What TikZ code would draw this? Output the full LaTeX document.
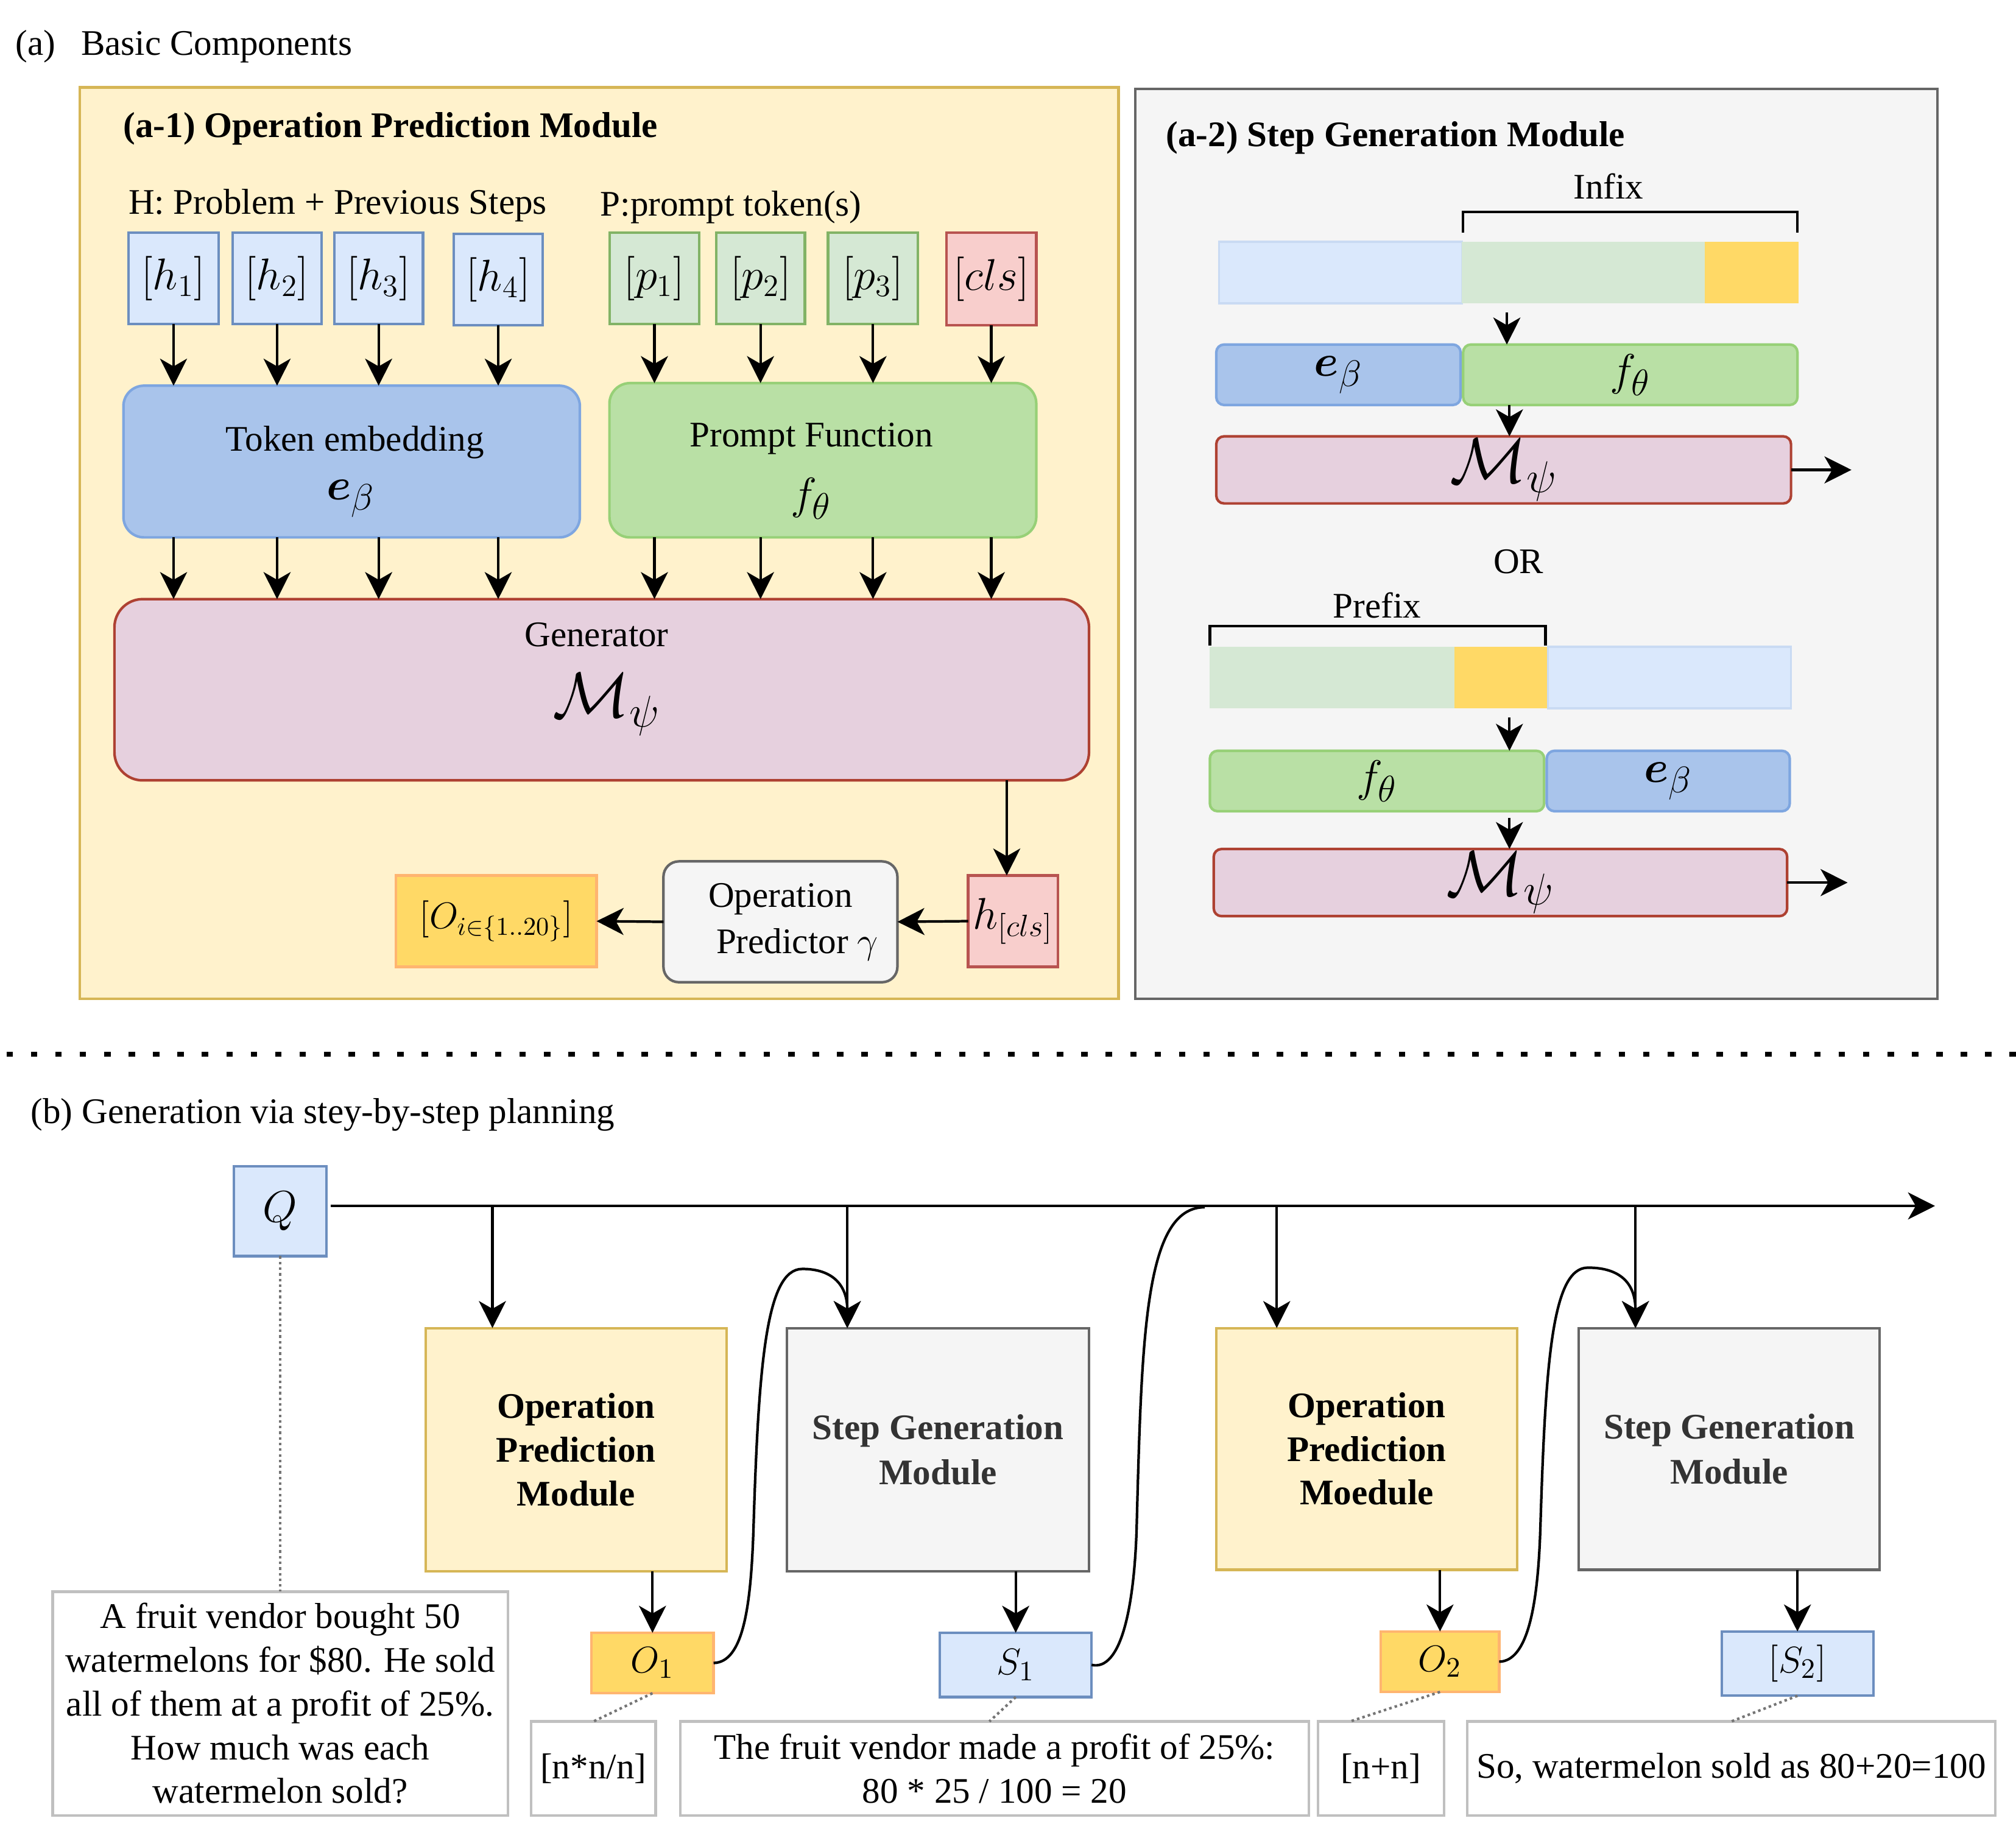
\documentclass[tikz,border=0pt]{standalone}
\usepackage{fontspec}
\usepackage{bm}
\setmainfont{Liberation Serif}
\usetikzlibrary{arrows.meta,calc}
\definecolor{ylwF}{HTML}{FFF2CC}\definecolor{ylwD}{HTML}{D6B656}
\definecolor{bluF}{HTML}{DAE8FC}\definecolor{bluD}{HTML}{6C8EBF}
\definecolor{grnF}{HTML}{D5E8D4}\definecolor{grnD}{HTML}{82B366}
\definecolor{redF}{HTML}{F8CECC}\definecolor{redD}{HTML}{B85450}
\definecolor{teF}{HTML}{A9C4EB}\definecolor{teD}{HTML}{7EA6E0}
\definecolor{pfF}{HTML}{B9E0A5}\definecolor{pfD}{HTML}{97D077}
\definecolor{genF}{HTML}{E6D0DE}\definecolor{genD}{HTML}{AE4132}
\definecolor{gryF}{HTML}{F5F5F5}\definecolor{gryD}{HTML}{666666}
\definecolor{gryT}{HTML}{333333}
\definecolor{orgF}{HTML}{FFD966}\definecolor{orgD}{HTML}{FFB570}
\definecolor{annD}{HTML}{C0C0C0}
\definecolor{dotC}{HTML}{757575}
\newcommand\mybox[7]{%
 \pgfmathsetmacro\bxcx{(#3+#5)/2}%
 \pgfmathsetmacro\bxcy{(#4+#6)/2}%
 \pgfmathsetmacro\bxw{(#5-#3)*0.5}%
 \pgfmathsetmacro\bxh{(#6-#4)*0.5}%
 \node[#1, minimum width=\bxw pt, minimum height=\bxh pt] (#2) at (\bxcx,\bxcy) {#7};}
\begin{document}
\begin{tikzpicture}[x=0.5pt,y=-0.5pt,
 every node/.style={outer sep=0pt},
 base/.style={draw, line width=1pt, inner sep=1pt, align=center, font=\fontsize{14}{17}\selectfont},
 tokB/.style={base, fill=bluF, draw=bluD, font=\fontsize{17}{20}\selectfont},
 tokG/.style={base, fill=grnF, draw=grnD, font=\fontsize{17}{20}\selectfont},
 tokR/.style={base, fill=redF, draw=redD, font=\fontsize{17}{20}\selectfont},
 panelY/.style={base, fill=ylwF, draw=ylwD},
 panelG/.style={base, fill=gryF, draw=gryD},
 teS/.style={base, fill=teF, draw=teD, rounded corners=8pt},
 pfS/.style={base, fill=pfF, draw=pfD, rounded corners=8pt},
 genS/.style={base, fill=genF, draw=genD, rounded corners=11pt},
 opS/.style={base, fill=gryF, draw=gryD, rounded corners=6pt, font=\fontsize{14}{18}\selectfont},
 ylwS/.style={base, fill=orgF, draw=orgD, font=\fontsize{14.5}{17}\selectfont},
 smte/.style={base, fill=teF, draw=teD, rounded corners=3pt, font=\fontsize{19}{20}\selectfont},
 smpf/.style={base, fill=pfF, draw=pfD, rounded corners=3pt, font=\fontsize{19}{20}\selectfont},
 smgen/.style={base, fill=genF, draw=genD, rounded corners=3pt, font=\fontsize{26}{26}\selectfont},
 barS/.style={inner sep=0pt},
 opm/.style={base, fill=ylwF, draw=ylwD, font=\fontsize{14}{17}\selectfont\bfseries},
 sgm/.style={base, fill=gryF, draw=gryD, text=gryT, font=\fontsize{14}{17.5}\selectfont\bfseries},
 valO/.style={base, fill=orgF, draw=orgD, font=\fontsize{15}{17}\selectfont},
 valS/.style={base, fill=bluF, draw=bluD, font=\fontsize{15}{17}\selectfont},
 ann/.style={base, fill=white, draw=annD},
 txt/.style={inner sep=0pt, font=\fontsize{14}{17}\selectfont},
 mtxt/.style={inner sep=0pt, font=\fontsize{19}{20}\selectfont},
 ttl/.style={inner sep=0pt, anchor=west, font=\fontsize{14}{17}\selectfont\bfseries},
 arr/.style={line width=1pt, -{Stealth[length=10.5pt,width=10.5pt,inset=3pt]}},
 plain/.style={line width=1pt},
 dotl/.style={draw=dotC, line width=1pt, dash pattern=on 1pt off 1.2pt},
 sepl/.style={line width=2pt, dash pattern=on 2.5pt off 7pt},
 brk/.style={line width=1pt}
]
\fill[white] (0,0) rectangle (1568,1416);
\useasboundingbox (0,0) rectangle (1568,1416);

% ---------- (a) ----------
\node[txt, anchor=west] (ta) at (12,36) {(a)\hspace{10pt}Basic Components};

% (a-1)
\mybox{panelY}{pa1}{62}{68}{870}{777}{}
\node[ttl] (t1ttl) at (96,100) {(a-1) Operation Prediction Module};
\node[txt, anchor=west] (thl) at (100,160) {H: Problem + Previous Steps};
\node[txt, anchor=west] (tpl) at (467,161) {P:prompt token(s)};

\mybox{tokB}{h1}{100}{181}{170}{252}{$[h_1]$}
\mybox{tokB}{h2}{181}{181}{250}{252}{$[h_2]$}
\mybox{tokB}{h3}{260}{181}{329}{252}{$[h_3]$}
\mybox{tokB}{h4}{353}{182}{422}{253}{$[h_4]$}
\mybox{tokG}{p1}{474}{181}{544}{252}{$[p_1]$}
\mybox{tokG}{p2}{557}{181}{626}{252}{$[p_2]$}
\mybox{tokG}{p3}{644}{181}{714}{252}{$[p_3]$}
\mybox{tokR}{cls}{736}{181}{806}{253}{$[cls]$}

\mybox{teS}{te}{96}{300}{451}{418}{}
\node[txt] (tet) at (276,344) {Token embedding};
\node[mtxt] (tem) at (273,388) {$\bm{e}_\beta$};
\mybox{pfS}{pf}{474}{298}{806}{418}{}
\node[txt] (pft) at (631,341) {Prompt Function};
\node[mtxt] (pfm) at (631,388) {$f_\theta$};

\mybox{genS}{gen}{89}{466}{847}{607}{}
\node[txt, anchor=base] (gent) at (464,503) {Generator};
\node[inner sep=0pt, anchor=north, font=\fontsize{26}{26}\selectfont] (genm) at (472,524) {$\mathcal{M}_\psi$};

\foreach \t in {h1,h2,h3,h4}{
  \draw[arr] (\t.south) -- (\t.south |- te.north);
  \draw[arr] (te.south -| \t) -- (\t |- gen.north);
}
\foreach \t in {p1,p2,p3,cls}{
  \draw[arr] (\t.south) -- (\t.south |- pf.north);
  \draw[arr] (pf.south -| \t) -- (\t |- gen.north);
}

\mybox{tokR}{hc}{753}{681}{823}{752}{$h_{[cls]}$}
\mybox{opS}{op}{516}{670}{698}{764}{Operation\\\hspace*{13pt}Predictor $\gamma$}
\mybox{ylwS}{ob}{308}{681}{464}{752}{$[O_{i\in\{1..20\}}]$}
\coordinate (gx) at (783,0);
\draw[arr] (gen.south -| gx) -- (hc.north -| gx);
\draw[arr] (hc.west) -- (op.east);
\draw[arr] (op.west) -- (ob.east);

% (a-2)
\mybox{panelG}{pa2}{883}{69}{1507}{777}{}
\node[ttl] (t2ttl) at (907,107) {(a-2) Step Generation Module};

\node[txt] (tinf) at (1251,145) {Infix};
\draw[brk] (1138,181) -- (1138,165) -- (1398,165) -- (1398,181);
\mybox{barS,fill=bluF,draw=bluF!85!bluD,line width=0.8pt}{bi1}{948}{188}{1137}{236}{}
\mybox{barS,fill=grnF}{bi2}{1137}{188}{1326}{236}{}
\mybox{barS,fill=orgF}{bi3}{1326}{188}{1399}{236}{}
\mybox{smte}{ei}{946}{268}{1136}{315}{$\bm{e}_\beta$}
\mybox{smpf}{fi}{1138}{268}{1398}{315}{$f_\theta$}
\mybox{smgen}{mi}{946}{342}{1393}{389}{$\mathcal{M}_\psi$}
\coordinate (ax1) at (1172,0);
\coordinate (ax2) at (1174,0);
\draw[arr] ($(bi2.south -| ax1)+(0,7)$) -- (fi.north -| ax1);
\draw[arr] (fi.south -| ax2) -- (mi.north -| ax2);
\coordinate (mo1) at (1440,365.5);
\draw[arr] (mi.east) -- (mo1);

\node[txt] (tor) at (1181,437) {OR};
\node[txt] (tpre) at (1071,471) {Prefix};
\draw[brk] (941,502) -- (941,487) -- (1202,487) -- (1202,502);
\mybox{barS,fill=grnF}{bp1}{941}{503}{1131}{551}{}
\mybox{barS,fill=orgF}{bp2}{1131}{503}{1204}{551}{}
\mybox{barS,fill=bluF,draw=bluF!85!bluD,line width=0.8pt}{bp3}{1204}{503}{1393}{551}{}
\mybox{smpf}{fp}{941}{584}{1201}{631}{$f_\theta$}
\mybox{smte}{ep}{1203}{584}{1392}{631}{$\bm{e}_\beta$}
\mybox{smgen}{mp}{944}{663}{1390}{710}{$\mathcal{M}_\psi$}
\draw[arr] ($(bp2.south -| ax2)+(0,7)$) -- (fp.north -| ax2);
\draw[arr] ($(fp.south -| ax2)+(0,5)$) -- (mp.north -| ax2);
\coordinate (mo2) at (1437,686.5);
\draw[arr] (mp.east) -- (mo2);

% separator
\coordinate (sepa) at (5,820);
\coordinate (sepb) at (1568,820);
\draw[sepl] (sepa) -- (sepb);

% ---------- (b) ----------
\node[txt, anchor=west] (tb) at (24,867) {(b) Generation via stey-by-step planning};

\mybox{tokB,font=\fontsize{16.5}{18}\selectfont}{Q}{182}{907}{254}{977}{$Q$}
\coordinate (qend) at (1505,938);
\draw[arr] ($(Q.east)+(3,-4)$) -- (qend);

\mybox{opm}{opm1}{331}{1033}{565}{1222}{Operation\\Prediction\\Module}
\mybox{sgm}{sgm1}{612}{1033}{847}{1222}{Step Generation\\Module}
\mybox{opm}{opm2}{946}{1033}{1180}{1221}{Operation\\Prediction\\Moedule}
\mybox{sgm}{sgm2}{1228}{1033}{1462}{1221}{Step Generation\\Module}

\coordinate (d1) at (383,938);
\coordinate (d2) at (659,938);
\coordinate (d3) at (993,938);
\coordinate (d4) at (1272,938);
\draw[arr] (d1) -- (d1 |- opm1.north);
\draw[arr] (d2) -- (d2 |- sgm1.north);
\draw[arr] (d3) -- (d3 |- opm2.north);
\draw[arr] (d4) -- (d4 |- sgm2.north);

\mybox{valO}{o1}{460}{1270}{555}{1317}{$O_1$}
\mybox{valS}{s1}{731}{1270}{849}{1320}{$S_1$}
\mybox{valO}{o2}{1074}{1269}{1166}{1316}{$O_2$}
\mybox{valS}{s2}{1339}{1269}{1457}{1319}{$[S_2]$}
\draw[arr] (opm1.south -| o1) -- (o1.north);
\draw[arr] (sgm1.south -| s1) -- (s1.north);
\draw[arr] (opm2.south -| o2) -- (o2.north);
\draw[arr] (sgm2.south -| s2) -- (s2.north);

\draw[arr] (o1.east) .. controls (578,1293) and (584,1250) .. (586,1190)
  .. controls (590,1060) and (596,987) .. (624,987)
  .. controls (648,987) and (659,1000) .. (d2 |- sgm1.north);
\draw[plain] (s1.east) .. controls (872,1300) and (882,1250) .. (884,1190)
  .. controls (888,1040) and (890,939) .. (937,939);
\draw[arr] (o2.east) .. controls (1188,1292) and (1196,1250) .. (1198,1190)
  .. controls (1202,1060) and (1207,986) .. (1235,986)
  .. controls (1262,986) and (1272,1000) .. (d4 |- sgm2.north);

\mybox{ann}{qt}{41}{1238}{395}{1412}{A fruit vendor bought 50\\watermelons for \$80. He sold\\all of them at a profit of 25\%.\\How much was each\\watermelon sold?}
\mybox{ann}{n1}{413}{1339}{510}{1412}{[n*n/n]}
\mybox{ann}{t1}{529}{1339}{1018}{1412}{The fruit vendor made a profit of 25\%:\\80 * 25 / 100 = 20}
\mybox{ann}{n2}{1025}{1339}{1123}{1412}{[n+n]}
\mybox{ann}{t2}{1141}{1339}{1552}{1412}{So, watermelon sold as 80+20=100}

\draw[dotl] (Q.south) -- (Q.south |- qt.north);
\draw[dotl] (o1.south) -- (n1.north);
\draw[dotl] (s1.south) -- ($(t1.north)+(-4,0)$);
\draw[dotl] (o2.south) -- ($(n2.north)+(-24,0)$);
\draw[dotl] (s2.south) -- (t2.north);
\end{tikzpicture}
\end{document}
